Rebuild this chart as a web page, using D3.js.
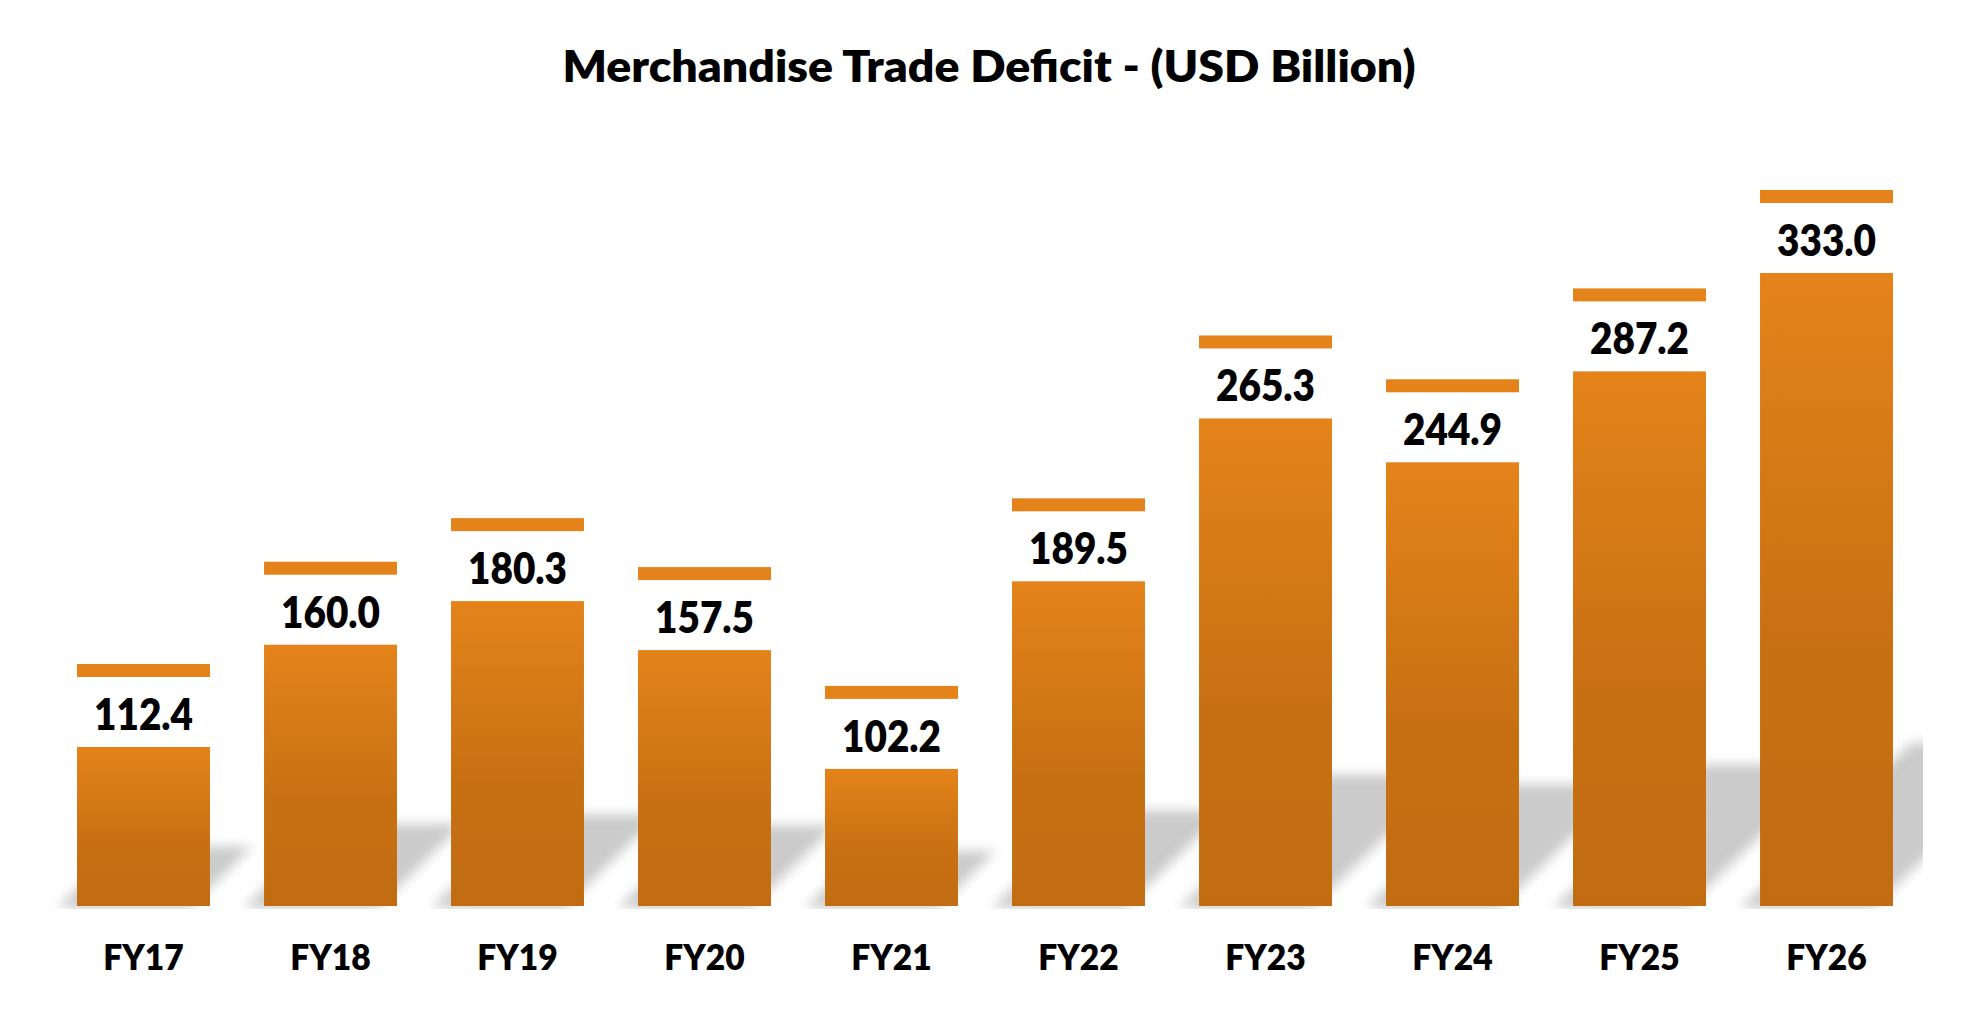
<!DOCTYPE html>
<html>
<head>
<meta charset="utf-8">
<script src="https://cdn.jsdelivr.net/npm/d3@7"></script>
<style>
  html, body { margin: 0; padding: 0; background: #ffffff; }
  svg { display: block; }
  text { font-family: Lato, "Open Sans", sans-serif; font-weight: 800; fill: #000; }
</style>
</head>
<body>
<svg id="chart" width="1970" height="1012"></svg>
<script>
// ---- data ----
const categories = ["FY17", "FY18", "FY19", "FY20", "FY21", "FY22", "FY23", "FY24", "FY25", "FY26"];
const values = [112.4, 160.0, 180.3, 157.5, 102.2, 189.5, 265.3, 244.9, 287.2, 333.0];
const valueLabels = ["112.4", "160.0", "180.3", "157.5", "102.2", "189.5", "265.3", "244.9", "287.2", "333.0"];
const titleText = "Merchandise Trade Deficit - (USD Billion)";
const yDomain = [38.4, 333.0];

// ---- layout ----
const W = 1970, H = 1012;
const baseY = 906, topY = 273;
const svg = d3.select("#chart");

const x = d3.scaleBand().domain(categories).range([50, 1920]).paddingInner(0.289).paddingOuter(0.1445);
const y = d3.scaleLinear().domain(yDomain).range([baseY, topY]);

const defs = svg.append("defs");
const grad = defs.append("linearGradient").attr("id", "barGrad")
  .attr("x1", 0).attr("y1", 0).attr("x2", 0).attr("y2", 1);
grad.append("stop").attr("offset", "0%").attr("stop-color", "#e4831a");
grad.append("stop").attr("offset", "60%").attr("stop-color", "#c77013");
grad.append("stop").attr("offset", "100%").attr("stop-color", "#c26c12");

const blur = defs.append("filter").attr("id", "shadowBlur")
  .attr("x", "-20%").attr("y", "-40%").attr("width", "140%").attr("height", "180%");
blur.append("feGaussianBlur").attr("stdDeviation", 6);

defs.append("clipPath").attr("id", "plotClip")
  .append("rect").attr("x", 0).attr("y", 0).attr("width", 1923).attr("height", baseY + 3);

// ---- shadows (perspective, skewed to upper right) ----
const shadowOffsetX = 20, shadowSkew = 1.05;
const shadowH = v => 25 + 0.218 * (baseY - y(v));
const shadowG = svg.append("g").attr("clip-path", "url(#plotClip)")
  .append("g").attr("filter", "url(#shadowBlur)");
shadowG.selectAll("path").data(values).join("path")
  .attr("fill", "#cbcbcb")
  .attr("d", (v, i) => {
    const L = x(categories[i]) - shadowOffsetX;
    const R = L + x.bandwidth();
    const h = shadowH(v);
    const dx = h * shadowSkew;
    return `M${L},${baseY + 2}L${R},${baseY + 2}L${R + dx},${baseY - h}L${L + dx},${baseY - h}Z`;
  });

// ---- bars ----
svg.append("g").selectAll("rect").data(values).join("rect")
  .attr("x", (v, i) => x(categories[i]))
  .attr("y", v => y(v))
  .attr("width", x.bandwidth())
  .attr("height", v => baseY - y(v))
  .attr("fill", "url(#barGrad)");

// ---- caps above labels ----
const capGap = 83, capThick = 13;
svg.append("g").selectAll("rect").data(values).join("rect")
  .attr("x", (v, i) => x(categories[i]))
  .attr("y", v => y(v) - capGap)
  .attr("width", x.bandwidth())
  .attr("height", capThick)
  .attr("fill", "#e4831a");

// ---- value labels ----
svg.append("g").selectAll("text").data(values).join("text")
  .attr("transform", (v, i) => `translate(${x(categories[i]) + x.bandwidth() / 2},${y(v) - 17}) scale(0.9,1)`)
  .attr("text-anchor", "middle")
  .style("font-size", "43px")
  .text((v, i) => valueLabels[i]);

// ---- category axis labels ----
const xAxis = d3.axisBottom(x).tickSize(0).tickPadding(0);
const axG = svg.append("g").attr("transform", `translate(0,${baseY})`).call(xAxis);
axG.select(".domain").remove();
axG.selectAll(".tick text")
  .attr("y", 64).attr("dy", 0)
  .attr("transform", "scale(0.96,1)")
  .style("font-size", "35px")
  .style("font-family", "Lato, 'Open Sans', sans-serif")
  .style("font-weight", 800)
  .attr("fill", "#000");

// ---- title ----
svg.append("text")
  .attr("x", 989).attr("y", 82)
  .attr("text-anchor", "middle")
  .attr("textLength", 853).attr("lengthAdjust", "spacingAndGlyphs")
  .style("font-size", "43px")
  .text(titleText);
</script>
</body>
</html>
